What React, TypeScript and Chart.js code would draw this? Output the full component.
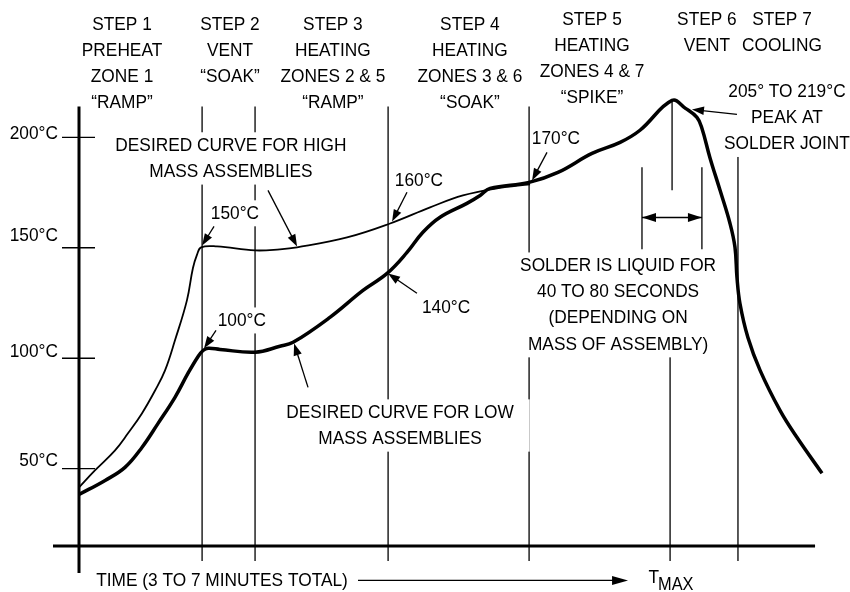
import React, { useEffect, useRef } from "react";
import { Chart, registerables } from "chart.js";

Chart.register(...registerables);

// ---- data (time in arbitrary seconds, temperature in °C) ----
const lowTime = [0, 10.5, 18.5, 25.3, 31.8, 38.6, 43.8, 47.9, 49.9, 51.9, 56.7, 70.8, 80.8, 86.1, 100.9, 114.2, 123.9, 131.9, 138.3, 145.2, 156.0, 161.3, 165.3, 181.0, 192.6, 206.3, 217.6, 225.6, 238.5, 243.9, 248.5, 250.5, 253.7, 257.8, 261.8, 263.8, 264.6, 265.8, 269.0, 273.9, 281.9, 288.7, 298.8];
const lowTemp = [38.3, 44.7, 50.6, 59.6, 70.5, 82.3, 93.1, 100.8, 103.5, 104.5, 104.0, 102.7, 105.4, 107.2, 118.5, 130.7, 138.4, 147.9, 157.0, 163.8, 170.1, 173.7, 176.9, 179.6, 184.1, 192.7, 197.7, 203.2, 216.7, 213.1, 209.0, 204.1, 190.9, 176.0, 161.0, 150.2, 136.6, 124.8, 109.4, 94.5, 76.4, 64.2, 47.9];

const highTime = [0, 6.4, 14.5, 19.7, 25.3, 30.6, 34.6, 38.6, 43.4, 45.8, 47.5, 49.1, 55.5, 70.8, 80.8, 87.7, 107.8, 125.1, 141.2, 154.4, 168.1, 181.4];
const highTemp = [41.5, 49.2, 58.3, 66.0, 75.0, 85.4, 94.5, 108.1, 126.2, 140.7, 147.0, 150.2, 150.6, 148.8, 149.3, 150.2, 154.7, 161.0, 168.3, 173.7, 176.9, 178.7];

const yTickValues = [50, 100, 150, 200];
const yTickLabels = ["50°C", "100°C", "150°C", "200°C"];

const stepBoundaries = [49.5, 70.8, 124.3, 181.0, 265.0];
const tMax = 237.7;
const peakTime = 238.5;
const peakTemp = 216.7;
const liquidStart = 226.4;
const liquidEnd = 250.5;

const X_MIN = 0;
const X_MAX = 300;
const Y_MIN = 15;
const Y_MAX = 235;

const headerCols = [
  { t: 17.3, T: 250.9, lines: ["STEP 1", "PREHEAT", "ZONE 1", "“RAMP”"] },
  { t: 60.7, T: 250.9, lines: ["STEP 2", "VENT", "“SOAK”"] },
  { t: 102.1, T: 250.9, lines: ["STEP 3", "HEATING", "ZONES 2 & 5", "“RAMP”"] },
  { t: 157.2, T: 250.9, lines: ["STEP 4", "HEATING", "ZONES 3 & 6", "“SOAK”"] },
  { t: 206.3, T: 253.0, lines: ["STEP 5", "HEATING", "ZONES 4 & 7", "“SPIKE”"] },
  { t: 252.5, T: 253.0, lines: ["STEP 6", "VENT"] },
  { t: 282.7, T: 253.0, lines: ["STEP 7", "COOLING"] },
];

const notes = [
  { t: 61.1, T: 196.4, lines: ["DESIRED CURVE FOR HIGH", "MASS ASSEMBLIES"], padX: 3 },
  { t: 62.7, T: 165.6, lines: ["150°C"], padX: 2 },
  { t: 65.5, T: 117.1, lines: ["100°C"], padX: 2 },
  { t: 136.7, T: 180.5, lines: ["160°C"], padX: 2 },
  { t: 147.6, T: 123.0, lines: ["140°C"], padX: 2 },
  { t: 191.8, T: 199.5, lines: ["170°C"], padX: 1 },
  { t: 284.7, T: 220.8, lines: ["205° TO 219°C", "PEAK AT", "SOLDER JOINT"], padX: 3 },
  { t: 216.8, T: 142.0, lines: ["SOLDER IS LIQUID FOR", "40 TO 80 SECONDS", "(DEPENDING ON", "MASS OF ASSEMBLY)"], padX: 6 },
  { t: 129.1, T: 75.5, lines: ["DESIRED CURVE FOR LOW", "MASS ASSEMBLIES"], padX: 16 },
];

const arrows = [
  { from: [76.0, 176.0], to: [87.7, 150.6] },
  { from: [54.3, 159.7], to: [49.5, 151.0] },
  { from: [55.1, 112.6], to: [50.3, 104.5] },
  { from: [131.9, 175.1], to: [125.9, 161.9] },
  { from: [135.9, 129.4], to: [124.3, 138.4] },
  { from: [188.2, 193.2], to: [182.2, 180.5] },
  { from: [264.6, 210.4], to: [246.5, 212.6] },
  { from: [92.1, 86.8], to: [86.5, 106.7] },
];

const timeLabel = "TIME (3 TO 7 MINUTES TOTAL)";
const timeLabelPos = { t: 57.5, T: -0.6 };
const timeArrow = { from: 112.2, to: 220.8, T: -0.6 };
const tmaxPos = { t: 229.0, T: 0.8 };

const FONT_FAMILY = '"Liberation Sans", Arial, sans-serif';
const FONT = `19px ${FONT_FAMILY}`;
const SQUEEZE = 0.91;

function text(ctx: CanvasRenderingContext2D, s: string, x: number, y: number, align: CanvasTextAlign) {
  ctx.save();
  ctx.translate(x, y);
  ctx.scale(SQUEEZE, 1);
  ctx.textAlign = align;
  ctx.fillText(s, 0, 0);
  ctx.restore();
}

function textWidth(ctx: CanvasRenderingContext2D, s: string) {
  return ctx.measureText(s).width * SQUEEZE;
}

function drawArrowHead(ctx: CanvasRenderingContext2D, x1: number, y1: number, x2: number, y2: number, len = 12, half = 4.2) {
  const a = Math.atan2(y2 - y1, x2 - x1);
  ctx.beginPath();
  ctx.moveTo(x2, y2);
  ctx.lineTo(x2 - len * Math.cos(a) + half * Math.sin(a), y2 - len * Math.sin(a) - half * Math.cos(a));
  ctx.lineTo(x2 - len * Math.cos(a) - half * Math.sin(a), y2 - len * Math.sin(a) + half * Math.cos(a));
  ctx.closePath();
  ctx.fill();
}

const diagramPlugin = {
  id: "reflowDiagram",
  beforeDatasetsDraw(chart: any) {
    const ctx: CanvasRenderingContext2D = chart.ctx;
    const xs = chart.scales.x;
    const ys = chart.scales.y;
    const px = (t: number) => xs.getPixelForValue(t);
    const py = (T: number) => ys.getPixelForValue(T);
    ctx.save();
    ctx.strokeStyle = "#000";
    ctx.fillStyle = "#000";
    ctx.lineCap = "butt";

    const topY = py(214);
    const belowY = py(Y_MIN) + 15;

    // step dividers
    ctx.lineWidth = 1.3;
    stepBoundaries.forEach((t) => {
      ctx.beginPath();
      ctx.moveTo(px(t), topY);
      ctx.lineTo(px(t), belowY);
      ctx.stroke();
    });
    // TMAX line
    ctx.beginPath();
    ctx.moveTo(px(tMax), py(101));
    ctx.lineTo(px(tMax), belowY);
    ctx.stroke();
    // peak line
    ctx.beginPath();
    ctx.moveTo(px(peakTime), py(peakTemp));
    ctx.lineTo(px(peakTime), py(176));
    ctx.stroke();
    // liquid bracket lines
    [liquidStart, liquidEnd].forEach((t) => {
      ctx.beginPath();
      ctx.moveTo(px(t), py(186.4));
      ctx.lineTo(px(t), py(149.3));
      ctx.stroke();
    });
    // double arrow
    const ay = py(163.7);
    ctx.beginPath();
    ctx.moveTo(px(liquidStart), ay);
    ctx.lineTo(px(liquidEnd), ay);
    ctx.stroke();
    drawArrowHead(ctx, px(liquidEnd), ay, px(liquidStart), ay, 14, 4.5);
    drawArrowHead(ctx, px(liquidStart), ay, px(liquidEnd), ay, 14, 4.5);

    // y ticks (cross the axis)
    ctx.lineWidth = 1.3;
    yTickValues.forEach((v) => {
      ctx.beginPath();
      ctx.moveTo(px(0) - 17, py(v));
      ctx.lineTo(px(0) + 16, py(v));
      ctx.stroke();
    });

    // axes
    ctx.lineWidth = 3;
    ctx.beginPath();
    ctx.moveTo(px(0), topY);
    ctx.lineTo(px(0), py(Y_MIN) + 27);
    ctx.stroke();
    ctx.beginPath();
    ctx.moveTo(px(0) - 26, py(Y_MIN));
    ctx.lineTo(px(296), py(Y_MIN));
    ctx.stroke();

    // text
    ctx.font = FONT;
    ctx.textBaseline = "middle";
    headerCols.forEach((c) => {
      c.lines.forEach((s, i) => {
        text(ctx, s, px(c.t), py(c.T) + i * 25.8, "center");
      });
    });

    const tickOffsets = [-8, -6, -12, -4];
    yTickValues.forEach((v, i) => {
      text(ctx, yTickLabels[i], px(0) - 21, py(v) + tickOffsets[i], "right");
    });

    notes.forEach((n) => {
      const lh = 26.3;
      const w = Math.max(...n.lines.map((s) => textWidth(ctx, s)));
      const cx = px(n.t);
      const cy = py(n.T);
      ctx.fillStyle = "#fff";
      ctx.fillRect(cx - w / 2 - n.padX, cy - 10 - 3, w + 2 * n.padX, (n.lines.length - 1) * lh + 20 + 6);
      ctx.fillStyle = "#000";
      n.lines.forEach((s, i) => text(ctx, s, cx, cy + i * lh, "center"));
    });

    // time label and arrow
    text(ctx, timeLabel, px(timeLabelPos.t), py(timeLabelPos.T), "center");
    ctx.lineWidth = 1.3;
    const ty = py(timeArrow.T);
    ctx.beginPath();
    ctx.moveTo(px(timeArrow.from), ty);
    ctx.lineTo(px(timeArrow.to) - 8, ty);
    ctx.stroke();
    drawArrowHead(ctx, px(timeArrow.from), ty, px(timeArrow.to), ty, 16, 4.5);

    // T MAX
    const tx = px(tmaxPos.t);
    const tyy = py(tmaxPos.T);
    text(ctx, "T", tx, tyy, "left");
    const tw = textWidth(ctx, "T");
    ctx.font = `18px ${FONT_FAMILY}`;
    text(ctx, "MAX", tx + tw - 1, tyy + 8, "left");
    ctx.restore();
  },
  afterDatasetsDraw(chart: any) {
    const ctx: CanvasRenderingContext2D = chart.ctx;
    const xs = chart.scales.x;
    const ys = chart.scales.y;
    const px = (t: number) => xs.getPixelForValue(t);
    const py = (T: number) => ys.getPixelForValue(T);
    ctx.save();
    ctx.strokeStyle = "#000";
    ctx.fillStyle = "#000";
    ctx.lineWidth = 1.3;
    arrows.forEach((a) => {
      const x1 = px(a.from[0]);
      const y1 = py(a.from[1]);
      const x2 = px(a.to[0]);
      const y2 = py(a.to[1]);
      const ang = Math.atan2(y2 - y1, x2 - x1);
      ctx.beginPath();
      ctx.moveTo(x1, y1);
      ctx.lineTo(x2 - 8 * Math.cos(ang), y2 - 8 * Math.sin(ang));
      ctx.stroke();
      drawArrowHead(ctx, x1, y1, x2, y2, 12, 4.2);
    });
    ctx.restore();
  },
};

export default function App() {
  const canvasRef = useRef<HTMLCanvasElement | null>(null);

  useEffect(() => {
    if (!canvasRef.current) return;
    const chart = new Chart(canvasRef.current, {
      type: "line",
      data: {
        datasets: [
          {
            label: "Low mass assemblies",
            data: lowTime.map((t, i) => ({ x: t, y: lowTemp[i] })),
            borderColor: "#000",
            borderWidth: 3.5,
            pointRadius: 0,
            tension: 0.4,
            borderJoinStyle: "round",
            fill: false,
          },
          {
            label: "High mass assemblies",
            data: highTime.map((t, i) => ({ x: t, y: highTemp[i] })),
            borderColor: "#000",
            borderWidth: 1.8,
            pointRadius: 0,
            tension: 0.4,
            fill: false,
          },
        ],
      },
      options: {
        animation: false,
        responsive: true,
        maintainAspectRatio: false,
        layout: { padding: { left: 79, right: 25, top: 60, bottom: 46 } },
        scales: {
          x: { type: "linear", min: X_MIN, max: X_MAX, display: false },
          y: { type: "linear", min: Y_MIN, max: Y_MAX, display: false },
        },
        plugins: {
          legend: { display: false },
          tooltip: { enabled: false },
        },
      },
      plugins: [diagramPlugin],
    });
    return () => chart.destroy();
  }, []);

  return (
    <div style={{ position: "fixed", left: 0, top: 0, width: 850, height: 592, background: "#fff" }}>
      <canvas ref={canvasRef} />
    </div>
  );
}
